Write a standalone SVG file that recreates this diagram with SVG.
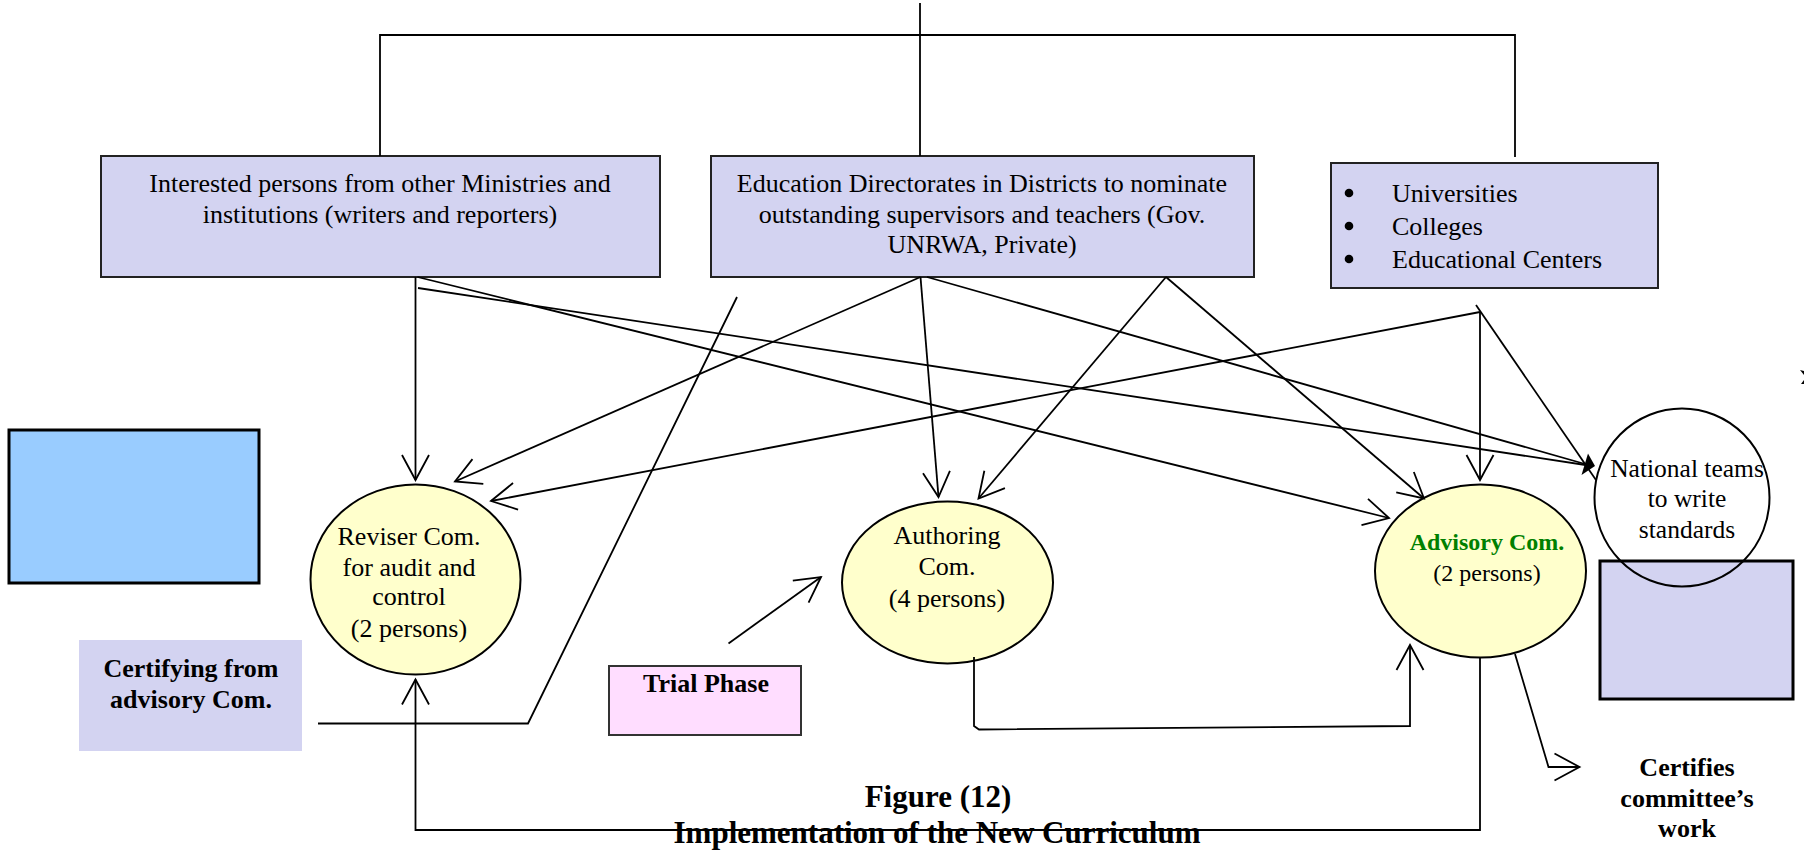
<svg xmlns="http://www.w3.org/2000/svg" width="1804" height="850" viewBox="0 0 1804 850">
  <defs>
    <marker id="open" markerUnits="userSpaceOnUse" markerWidth="30" markerHeight="30" viewBox="0 0 30 30" refX="27" refY="15" orient="auto">
      <path d="M2,1.5 L27,15 L2,28.5" fill="none" stroke="#000" stroke-width="1.8"/>
    </marker>
  </defs>
  <style>
    .box{fill:#D3D3F1;stroke:#222;stroke-width:2}
    .com{fill:#FFFFCC;stroke:#000;stroke-width:2}
    .t{font-family:"Liberation Serif","Times New Roman",serif;font-size:26px;fill:#000}
    .b{font-weight:bold}
    .c{text-anchor:middle}
    .ln{fill:none;stroke:#000;stroke-width:1.8}
    .arr{marker-end:url(#open)}
  </style>
  <rect width="1804" height="850" fill="#fff"/>

  <!-- source bodies -->
  <g id="ministries">
    <rect class="box" x="101" y="156" width="559" height="121"/>
    <text class="t c" x="380" y="192">Interested persons from other Ministries and</text>
    <text class="t c" x="380" y="223">institutions (writers and reporters)</text>
  </g>
  <g id="directorates">
    <rect class="box" x="711" y="156" width="543" height="121"/>
    <text class="t c" x="982" y="192">Education Directorates in Districts to nominate</text>
    <text class="t c" x="982" y="223">outstanding supervisors and teachers (Gov.</text>
    <text class="t c" x="982" y="253">UNRWA, Private)</text>
  </g>
  <g id="universities">
    <rect class="box" x="1331" y="163" width="327" height="125"/>
    <circle cx="1349" cy="193" r="4.3" fill="#000"/>
    <circle cx="1349" cy="226" r="4.3" fill="#000"/>
    <circle cx="1349" cy="259" r="4.3" fill="#000"/>
    <text class="t" x="1392" y="202">Universities</text>
    <text class="t" x="1392" y="235">Colleges</text>
    <text class="t" x="1392" y="268">Educational Centers</text>
  </g>

  <!-- side blocks -->
  <g id="blue-block">
    <rect x="9" y="430" width="250" height="153" fill="#99CCFF" stroke="#000" stroke-width="3"/>
  </g>
  <g id="certifying">
    <rect x="79" y="640" width="223" height="111" fill="#D3D3F1"/>
    <text class="t b c" x="191" y="677">Certifying from</text>
    <text class="t b c" x="191" y="708">advisory Com.</text>
  </g>
  <g id="trial">
    <rect x="609" y="666" width="192" height="69" fill="#FFDDFF" stroke="#333" stroke-width="2"/>
    <text class="t b c" x="706" y="692">Trial Phase</text>
  </g>
  <g id="right-block">
    <rect x="1600" y="561" width="193" height="138" fill="#D3D3F1" stroke="#000" stroke-width="3"/>
  </g>

  <!-- committees -->
  <g id="reviser">
    <ellipse class="com" cx="415.5" cy="579.5" rx="105" ry="95"/>
    <text class="t c" x="409" y="545">Reviser Com.</text>
    <text class="t c" x="409" y="576">for audit and</text>
    <text class="t c" x="409" y="605">control</text>
    <text class="t c" x="409" y="637">(2 persons)</text>
  </g>
  <g id="authoring">
    <ellipse class="com" cx="947.5" cy="582.5" rx="105.5" ry="81"/>
    <text class="t c" x="947" y="544">Authoring</text>
    <text class="t c" x="947" y="575">Com.</text>
    <text class="t c" x="947" y="607">(4 persons)</text>
  </g>
  <g id="advisory">
    <ellipse class="com" cx="1480.5" cy="571" rx="105.5" ry="86.5"/>
    <text class="t b c" x="1487" y="550" style="font-size:24px;fill:#008000">Advisory Com.</text>
    <text class="t c" x="1487" y="581" style="font-size:24px">(2 persons)</text>
  </g>
  <g id="national-teams">
    <ellipse cx="1682" cy="497.5" rx="87.5" ry="89" fill="none" stroke="#000" stroke-width="2"/>
    <text class="t c" x="1687" y="477" style="font-size:25.5px">National teams</text>
    <text class="t c" x="1687" y="507" style="font-size:25.5px">to write</text>
    <text class="t c" x="1687" y="538" style="font-size:25.5px">standards</text>
  </g>
  <g id="certifies">
    <text class="t b c" x="1687" y="776">Certifies</text>
    <text class="t b c" x="1687" y="807">committee’s</text>
    <text class="t b c" x="1687" y="837">work</text>
  </g>

  <!-- caption -->
  <g id="caption">
    <text class="t b c" x="938" y="807" style="font-size:31px">Figure (12)</text>
    <text class="t b c" x="937" y="843" style="font-size:31px">Implementation of the New Curriculum</text>
  </g>

  <!-- connectors -->
  <g id="connectors">
    <!-- top bracket -->
    <path class="ln" d="M920,3 V156"/>
    <path class="ln" d="M380,156 V35 H1515 V157"/>

    <!-- from ministries -->
    <path class="ln arr" d="M415.5,277 V480"/>
    <path class="ln arr" d="M417.5,277 L1389,518"/>
    <path class="ln" d="M418,288 L1592,466"/>

    <!-- from directorates -->
    <path class="ln arr" d="M920.5,277 L455,481.5"/>
    <path class="ln arr" d="M920.5,277 L938.5,497"/>
    <path class="ln" d="M927,277 L1592,466"/>
    <path class="ln arr" d="M1166,277 L978.5,498.5"/>
    <path class="ln arr" d="M1166,277 L1424,498.5"/>

    <!-- from universities -->
    <path class="ln arr" d="M1480,312 L491,501"/>
    <path class="ln arr" d="M1480,312 V480"/>
    <path class="ln" d="M1476,305 L1596,480"/>
    <polygon points="1595,466 1581.5,475 1588,453.5" fill="#000"/>

    <!-- certifying link -->
    <path class="ln" d="M737,297 L528,723.5 H318" stroke-width="2.2"/>

    <!-- trial phase to authoring -->
    <path class="ln arr" d="M728.5,643.5 L821,577"/>

    <!-- authoring to advisory -->
    <path class="ln arr" d="M974,657 V726 L979,729.5 L1410,726 V645"/>

    <!-- advisory back to reviser -->
    <path class="ln arr" d="M1480,657 V830 H415.5 V679.5"/>

    <!-- advisory certifies -->
    <path class="ln arr" d="M1515,654 L1548.5,767 H1579.5"/>

    <!-- edge mark -->
    <path d="M1800,370 L1804,371 L1804,375 Z M1801,384 L1804,380 L1804,384 Z" fill="#000"/>
  </g>
</svg>
